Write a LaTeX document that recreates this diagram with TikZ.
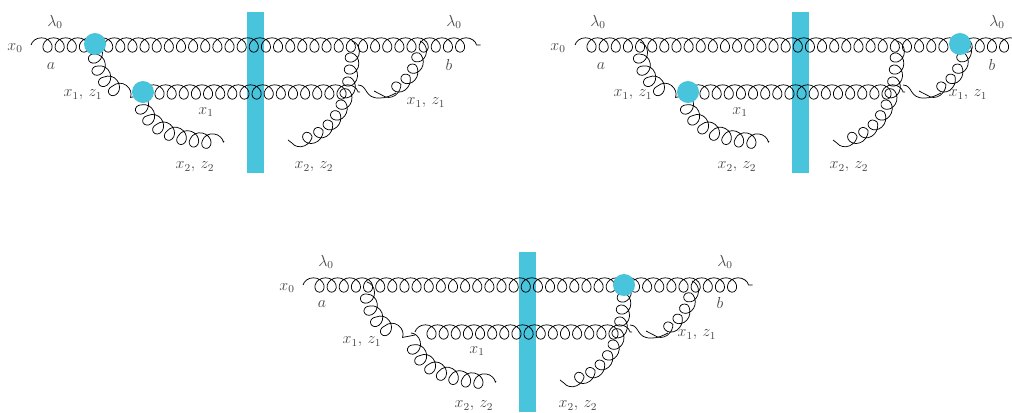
\documentclass[tikz,border=0pt]{standalone}
\usepackage{amsmath,amssymb}
\usepackage{xcolor}
\usetikzlibrary{decorations.pathmorphing}
\definecolor{cutblue}{RGB}{72,196,221}
\definecolor{labelgray}{RGB}{70,70,70}
\tikzset{
  gluon/.style={decorate,draw=black,line width=0.55pt,decoration={coil,aspect=1.03,segment length=9.1pt,amplitude=5.4pt}},
  gluonbend/.style={draw=black,line width=0.55pt},
  cutbar/.style={fill=cutblue,draw=none},
  blob/.style={fill=cutblue,draw=none},
  lbl/.style={text=labelgray,inner sep=0pt,font=\large}
}
\begin{document}
\begin{tikzpicture}[x=0.75pt,y=-0.75pt,line join=round]
  \useasboundingbox (0,0) rectangle (1012,412);
  % left top diagram
  \fill[cutbar] (247,12) rectangle (264,173);
  \draw[gluon] (31,45) -- (480.5,45);
  \draw[gluon] (143,92) -- (360,92);
  \draw[gluon] (95,42) .. controls (96,72) and (110,92) .. (143,95);
  \draw[gluon] (139,93) .. controls (146,125) and (175,141) .. (224,141);
  \draw[gluon] (352,41) .. controls (353,95) and (338,138) .. (288,140);
  \draw[gluon] (420,41) .. controls (418,70) and (402,91) .. (374,91);
  \draw[gluonbend] (358,85) .. controls (368,85) and (364,99) .. (380,98) .. controls (386,98) and (390,96) .. (396,93);
  \fill[blob] (95,44) circle (11);
  \fill[blob] (143,92) circle (11);
  \node[lbl] (lamA) at (55,22) {$\lambda_0$};
  \node[lbl] (xA) at (15,48) {$x_0$};
  \node[lbl] (aA) at (51,66) {$a$};
  \node[lbl] (zlA) at (83,95) {$x_1,\,z_1$};
  \node[lbl] (xoA) at (206,112) {$x_1$};
  \node[lbl] (zmA) at (195,167) {$x_2,\,z_2$};
  \node[lbl] (zrA) at (314,167) {$x_2,\,z_2$};
  \node[lbl] (znA) at (426,103) {$x_1,\,z_1$};
  \node[lbl] (lamB) at (454,22) {$\lambda_0$};
  \node[lbl] (bA) at (449,65) {$b$};
  % right top diagram
  \fill[cutbar] (792,12) rectangle (809,173);
  \draw[gluon] (575,45) -- (1024.5,45);
  \draw[gluon] (688,92) -- (905,92);
  \draw[gluon] (640,42) .. controls (641,72) and (655,92) .. (688,95);
  \draw[gluon] (684,93) .. controls (691,125) and (720,141) .. (769,141);
  \draw[gluon] (897,41) .. controls (898,95) and (883,138) .. (833,140);
  \draw[gluon] (965,41) .. controls (963,70) and (947,91) .. (919,91);
  \draw[gluonbend] (903,85) .. controls (913,85) and (909,99) .. (925,98) .. controls (931,98) and (935,96) .. (941,93);
  \fill[blob] (960,44) circle (11);
  \fill[blob] (688,92) circle (11);
  \node[lbl] (lamC) at (598,22) {$\lambda_0$};
  \node[lbl] (xC) at (558,48) {$x_0$};
  \node[lbl] (aC) at (601,66) {$a$};
  \node[lbl] (zlC) at (633,95) {$x_1,\,z_1$};
  \node[lbl] (xoC) at (740,112) {$x_1$};
  \node[lbl] (zmC) at (737,167) {$x_2,\,z_2$};
  \node[lbl] (zrC) at (849,167) {$x_2,\,z_2$};
  \node[lbl] (znC) at (968,95) {$x_1,\,z_1$};
  \node[lbl] (lamD) at (997,22) {$\lambda_0$};
  \node[lbl] (bC) at (992,65) {$b$};
  % bottom diagram
  \fill[cutbar] (519,252) rectangle (536,412);
  \draw[gluon] (303,285) -- (752.5,285);
  \draw[gluon] (415,332) -- (632,332);
  \draw[gluon] (367,282) .. controls (368,312) and (382,332) .. (415,335);
  \draw[gluon] (411,333) .. controls (418,365) and (447,381) .. (496,381);
  \draw[gluon] (624,281) .. controls (625,335) and (610,378) .. (560,380);
  \draw[gluon] (692,281) .. controls (690,310) and (674,331) .. (646,331);
  \draw[gluonbend] (630,325) .. controls (640,325) and (636,339) .. (652,338) .. controls (658,338) and (662,336) .. (668,333);
  \fill[blob] (624,285) circle (11);
  \node[lbl] (lamE) at (326,262) {$\lambda_0$};
  \node[lbl] (xE) at (287,288) {$x_0$};
  \node[lbl] (aE) at (322,304) {$a$};
  \node[lbl] (zlE) at (362,342) {$x_1,\,z_1$};
  \node[lbl] (xoE) at (477,351) {$x_1$};
  \node[lbl] (zmE) at (474,406) {$x_2,\,z_2$};
  \node[lbl] (zrE) at (578,406) {$x_2,\,z_2$};
  \node[lbl] (znE) at (697,335) {$x_1,\,z_1$};
  \node[lbl] (lamF) at (725,262) {$\lambda_0$};
  \node[lbl] (bE) at (720,303) {$b$};
\end{tikzpicture}
\end{document}
